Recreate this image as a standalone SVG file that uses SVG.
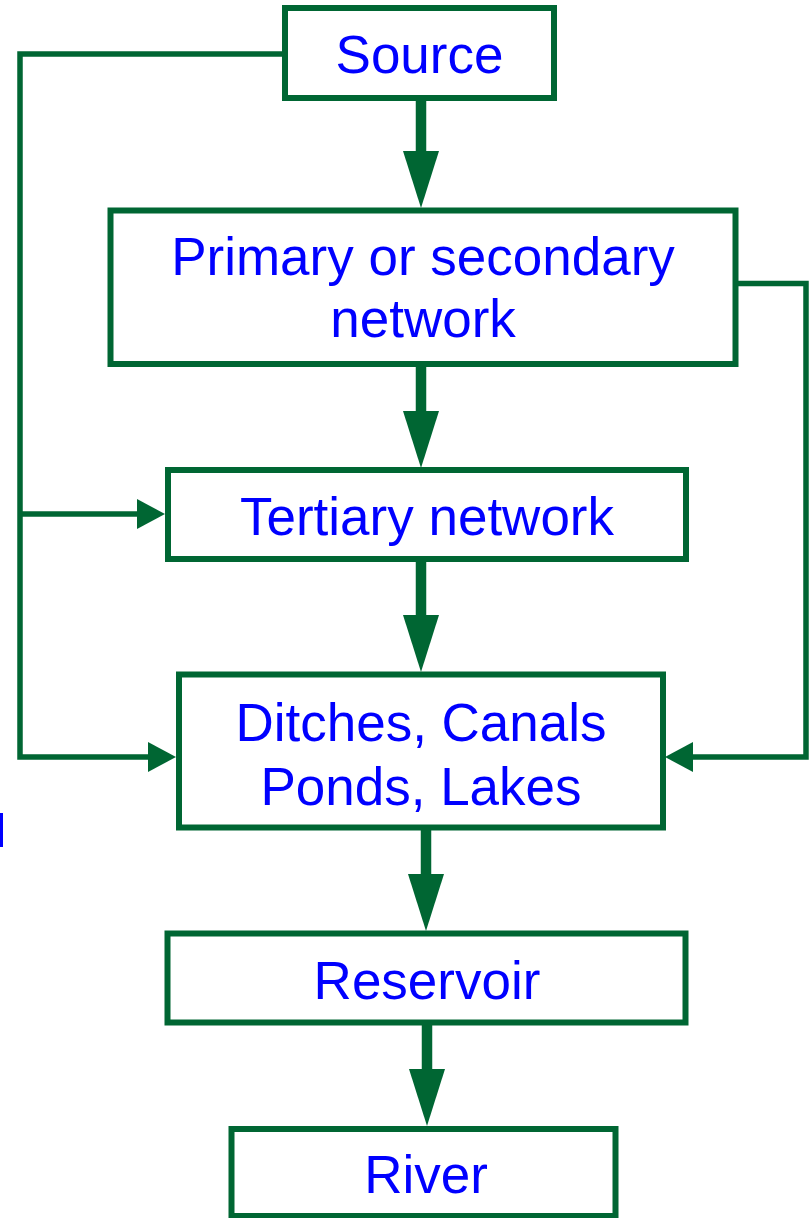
<svg xmlns="http://www.w3.org/2000/svg" width="811" height="1218" viewBox="0 0 811 1218">
  <style>
    .box { fill: #ffffff; stroke: #006633; stroke-width: 6; }
    .lbl { font-family: "Liberation Sans", Arial, sans-serif; font-size: 53px; fill: #0000ff; text-anchor: middle; }
    .thick { stroke: #006633; stroke-width: 10.5; fill: none; marker-end: url(#bigHead); }
    .thin { stroke: #006633; stroke-width: 5.5; fill: none; stroke-linejoin: miter; }
    .thinA { marker-end: url(#smallHead); }
  </style>
  <defs>
    <marker id="bigHead" markerUnits="userSpaceOnUse" viewBox="0 0 57 36" markerWidth="57" markerHeight="36" refX="0" refY="18" orient="auto">
      <path d="M0,0 L57,18 L0,36 Z" fill="#006633"/>
    </marker>
    <marker id="smallHead" markerUnits="userSpaceOnUse" viewBox="0 0 28 30" markerWidth="28" markerHeight="30" refX="0" refY="15" orient="auto">
      <path d="M0,0 L28,15 L0,30 Z" fill="#006633"/>
    </marker>
  </defs>

  <g id="connectors">
    <line class="thick" x1="421" y1="98" x2="421" y2="151"/>
    <line class="thick" x1="421" y1="364" x2="421" y2="411"/>
    <line class="thick" x1="421" y1="559" x2="421" y2="615"/>
    <line class="thick" x1="426" y1="827" x2="426" y2="874"/>
    <line class="thick" x1="427" y1="1022" x2="427" y2="1069"/>
    <polyline class="thin thinA" points="285,54 20,54 20,757 148,757"/>
    <line class="thin thinA" x1="20" y1="514" x2="137" y2="514"/>
    <polyline class="thin thinA" points="736,283.5 806,283.5 806,757 693,757"/>
  </g>

  <g id="source">
    <rect class="box" x="285" y="8" width="269" height="90"/>
    <text class="lbl" x="419.5" y="73">Source</text>
  </g>
  <g id="primary">
    <rect class="box" x="110.5" y="210.5" width="625" height="153.5"/>
    <text class="lbl" x="423" y="275">Primary or secondary</text>
    <text class="lbl" x="423" y="337">network</text>
  </g>
  <g id="tertiary">
    <rect class="box" x="168" y="470" width="518" height="89"/>
    <text class="lbl" x="427" y="535">Tertiary network</text>
  </g>
  <g id="ditches">
    <rect class="box" x="179" y="674.5" width="484" height="153"/>
    <text class="lbl" x="421" y="741">Ditches, Canals</text>
    <text class="lbl" x="421" y="805">Ponds, Lakes</text>
  </g>
  <g id="reservoir">
    <rect class="box" x="167.5" y="933.5" width="518" height="89"/>
    <text class="lbl" x="427" y="999">Reservoir</text>
  </g>
  <g id="river">
    <rect class="box" x="231.5" y="1129" width="384" height="87"/>
    <text class="lbl" x="426" y="1193">River</text>
  </g>
  <rect x="0" y="813" width="3" height="34" fill="#0000ff"/>
</svg>
